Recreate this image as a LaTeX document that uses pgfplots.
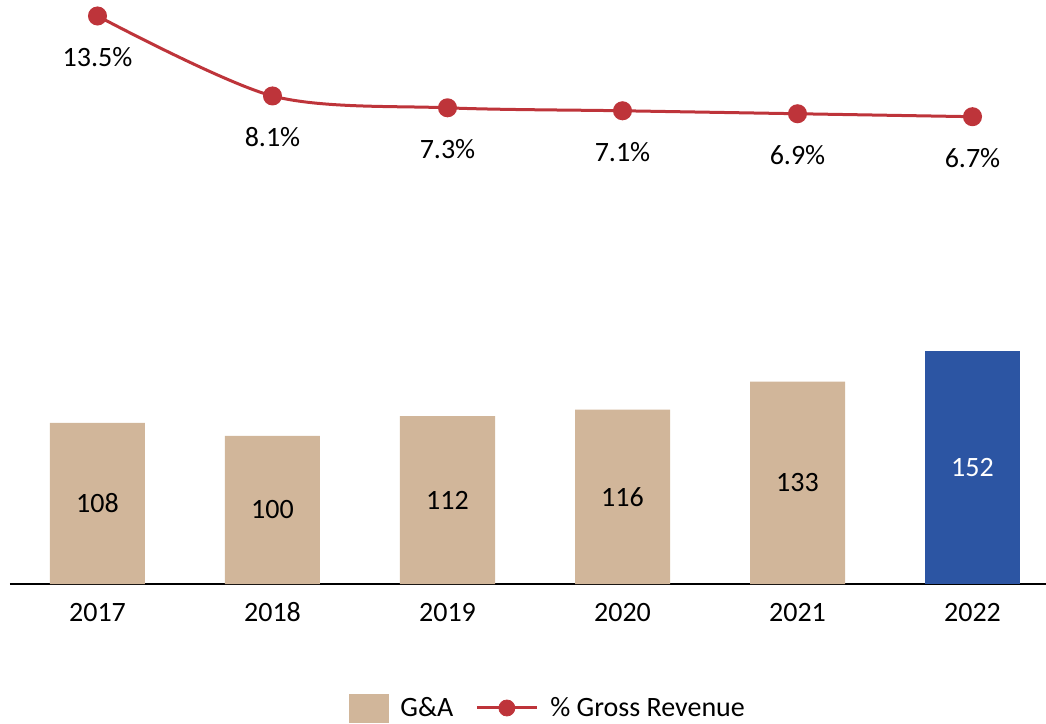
\documentclass[border=0pt]{standalone}
\usepackage{fontspec}
\setmainfont{Carlito}
\usepackage{pgfplots}
\pgfplotsset{compat=1.18}
\definecolor{gatan}{RGB}{209,182,154}
\definecolor{gblue}{RGB}{44,85,163}
\definecolor{gred}{RGB}{190,52,58}

\begin{document}
\begin{tikzpicture}[font=\fontsize{14}{17}\selectfont]
\begin{axis}[
    name=bars,
    scale only axis, width=518pt, height=292pt,
    xmin=-0.5, xmax=5.42, ymin=9.75, ymax=365.6,
    axis x line*=bottom, axis y line=none,
    axis line style={black, line width=0.7pt},
    xtick={0,...,5}, xticklabels={2017,2018,2019,2020,2021,2022},
    major tick length=0pt,
    xticklabel style={font=\fontsize{14}{17}\selectfont, anchor=base, yshift=-18.6pt},
    ybar, bar width=47.5pt, bar shift=0pt,
    legend style={draw=none, fill=none, at={(0.52,-0.2123)}, anchor=center,
        legend columns=2, font=\fontsize{14}{17}\selectfont,
        /tikz/every odd column/.append style={column sep=4pt},
        /tikz/every even column/.append style={column sep=9pt}},
    legend cell align=left,
]
    % legend entries first, bars are kept out of the legend
    \addlegendimage{legend image code/.code={\fill[gatan] (0pt,-7pt) rectangle (19.5pt,7pt);}}
    \addlegendentry{G\&A}
    \addlegendimage{legend image code/.code={
        \draw[gred, line width=1.5pt] (0pt,0pt) -- (30pt,0pt);
        \fill[gred] (15pt,0pt) circle (4pt);}}
    \addlegendentry{\% Gross Revenue}

    \addplot[fill=gatan, draw=none, forget plot] coordinates {
        (0,108) (1,100) (2,112) (3,116) (4,133)
    };
    \addplot[fill=gblue, draw=none, forget plot] coordinates {(5,152)};

    % bar labels in the middle of each bar
    \node at (axis cs:0,58.9) {108};
    \node at (axis cs:1,54.9) {100};
    \node at (axis cs:2,60.9) {112};
    \node at (axis cs:3,62.9) {116};
    \node at (axis cs:4,71.4) {133};
    \node[white] at (axis cs:5,80.9) {152};

    \coordinate (bl) at (rel axis cs:-0.00965,-0.2397);
    \coordinate (tr) at (rel axis cs:1,1);
\end{axis}

\begin{axis}[
    scale only axis, width=518pt, height=292pt,
    xmin=-0.5, xmax=5.42, ymin=-24.85, ymax=14.58,
    hide axis, clip=false,
    /pgf/number format/assume math mode=true,
]
    \addplot[gred, line width=1.5pt, smooth, mark=*, mark size=4pt,
        mark options={fill=gred, draw=gred},
        nodes near coords={\pgfmathprintnumber[fixed,fixed zerofill,precision=1]{\pgfplotspointmeta}\%},
        every node near coord/.append style={black, anchor=base, yshift=-25.5pt}]
    coordinates {
        (0,13.5) (1,8.1) (2,7.3) (3,7.1) (4,6.9) (5,6.7)
    };
\end{axis}
\pgfresetboundingbox
\useasboundingbox (bl) rectangle (tr);
\end{tikzpicture}
\end{document}
